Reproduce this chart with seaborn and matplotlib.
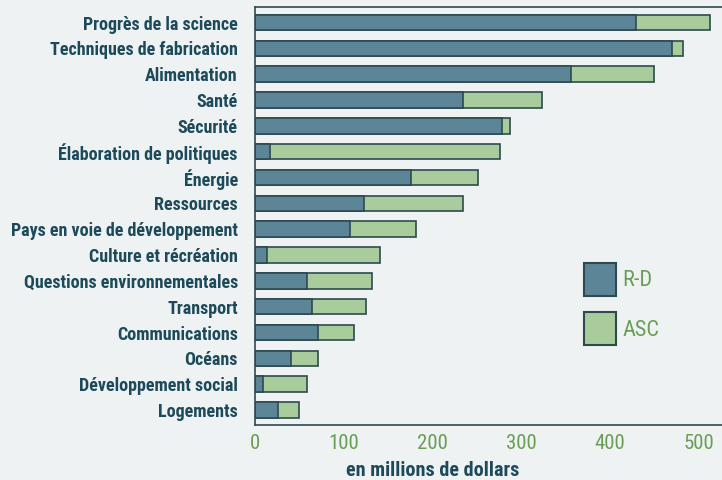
import matplotlib
matplotlib.use('Agg')
import matplotlib.pyplot as plt
from matplotlib.patches import Patch
import seaborn as sns
import pandas as pd
import numpy as np

categories = ['Progrès de la science', 'Techniques de fabrication', 'Alimentation', 'Santé',
              'Sécurité', 'Élaboration de politiques', 'Énergie', 'Ressources',
              'Pays en voie de développement', 'Culture et récréation',
              'Questions environnementales', 'Transport', 'Communications', 'Océans',
              'Développement social', 'Logements']
rd = [429, 470, 356, 235, 279, 17, 176, 123, 108, 14, 59, 65, 71, 41, 9, 26]
asc = [83, 12, 94, 88, 9, 259, 76, 112, 74, 127, 73, 61, 41, 30, 50, 24]
xticks = [0, 100, 200, 300, 400, 500]

bg = '#eef2f3'
rd_color = '#5c8597'
asc_color = '#a9cc9c'
edge = '#2e4a4f'
label_color = '#1d4a5a'
tick_color = '#6a9e55'

sns.set_theme(style='white')
plt.rcParams['font.family'] = ['Roboto Condensed', 'Archivo Narrow', 'DejaVu Sans']

df = pd.DataFrame({'cat': categories, 'rd': rd, 'asc': asc})
df['total'] = df['rd'] + df['asc']

fig = plt.figure(figsize=(7.22, 4.80), dpi=100, facecolor=bg)
ax = fig.add_axes([0.3525, 0.1146, 0.6475, 0.8708])
ax.set_facecolor(bg)

# stacked bars: total in ASC colour, R-D drawn on top
sns.barplot(data=df, x='total', y='cat', orient='h', color=asc_color, saturation=1,
            width=0.6, edgecolor=edge, linewidth=1.2, ax=ax)
sns.barplot(data=df, x='rd', y='cat', orient='h', color=rd_color, saturation=1,
            width=0.6, edgecolor=edge, linewidth=1.2, ax=ax)

ax.set_xlim(0, 526)
ax.set_ylim(15.58, -0.6)
ax.set_xticks(xticks)
ax.set_xticklabels([str(t) for t in xticks], fontsize=15, color=tick_color)
ax.tick_params(axis='x', direction='inout', length=7, width=1.2, color=edge, pad=3)
ax.tick_params(axis='y', length=0, pad=12)
for lab in ax.get_yticklabels():
    lab.set_fontsize(13)
    lab.set_fontweight('heavy')
    lab.set_color(label_color)
ax.set_yticks(np.arange(len(categories)) + 0.5, minor=True)
ax.tick_params(axis='y', which='minor', direction='in', length=4, color=edge, width=1)

ax.set_ylabel('')
ax.set_xlabel('en millions de dollars', fontsize=14.5, fontweight='heavy', color=label_color)
ax.xaxis.set_label_coords(0.382, -0.086)

ax.spines['right'].set_visible(False)
for s in ['left', 'bottom', 'top']:
    ax.spines[s].set_color(edge)
    ax.spines[s].set_linewidth(1.2)

handles = [Patch(facecolor=rd_color, edgecolor=edge, linewidth=1.5, label='R-D'),
           Patch(facecolor=asc_color, edgecolor=edge, linewidth=1.5, label='ASC')]
leg = ax.legend(handles=handles, loc='upper left', bbox_to_anchor=(0.68, 0.414), frameon=False,
                borderpad=0, handlelength=1.44, handleheight=1.87, labelspacing=0.75,
                handletextpad=0.3, fontsize=16)
for t in leg.get_texts():
    t.set_color(tick_color)

fig.savefig('out.png', dpi=100, facecolor=bg)
